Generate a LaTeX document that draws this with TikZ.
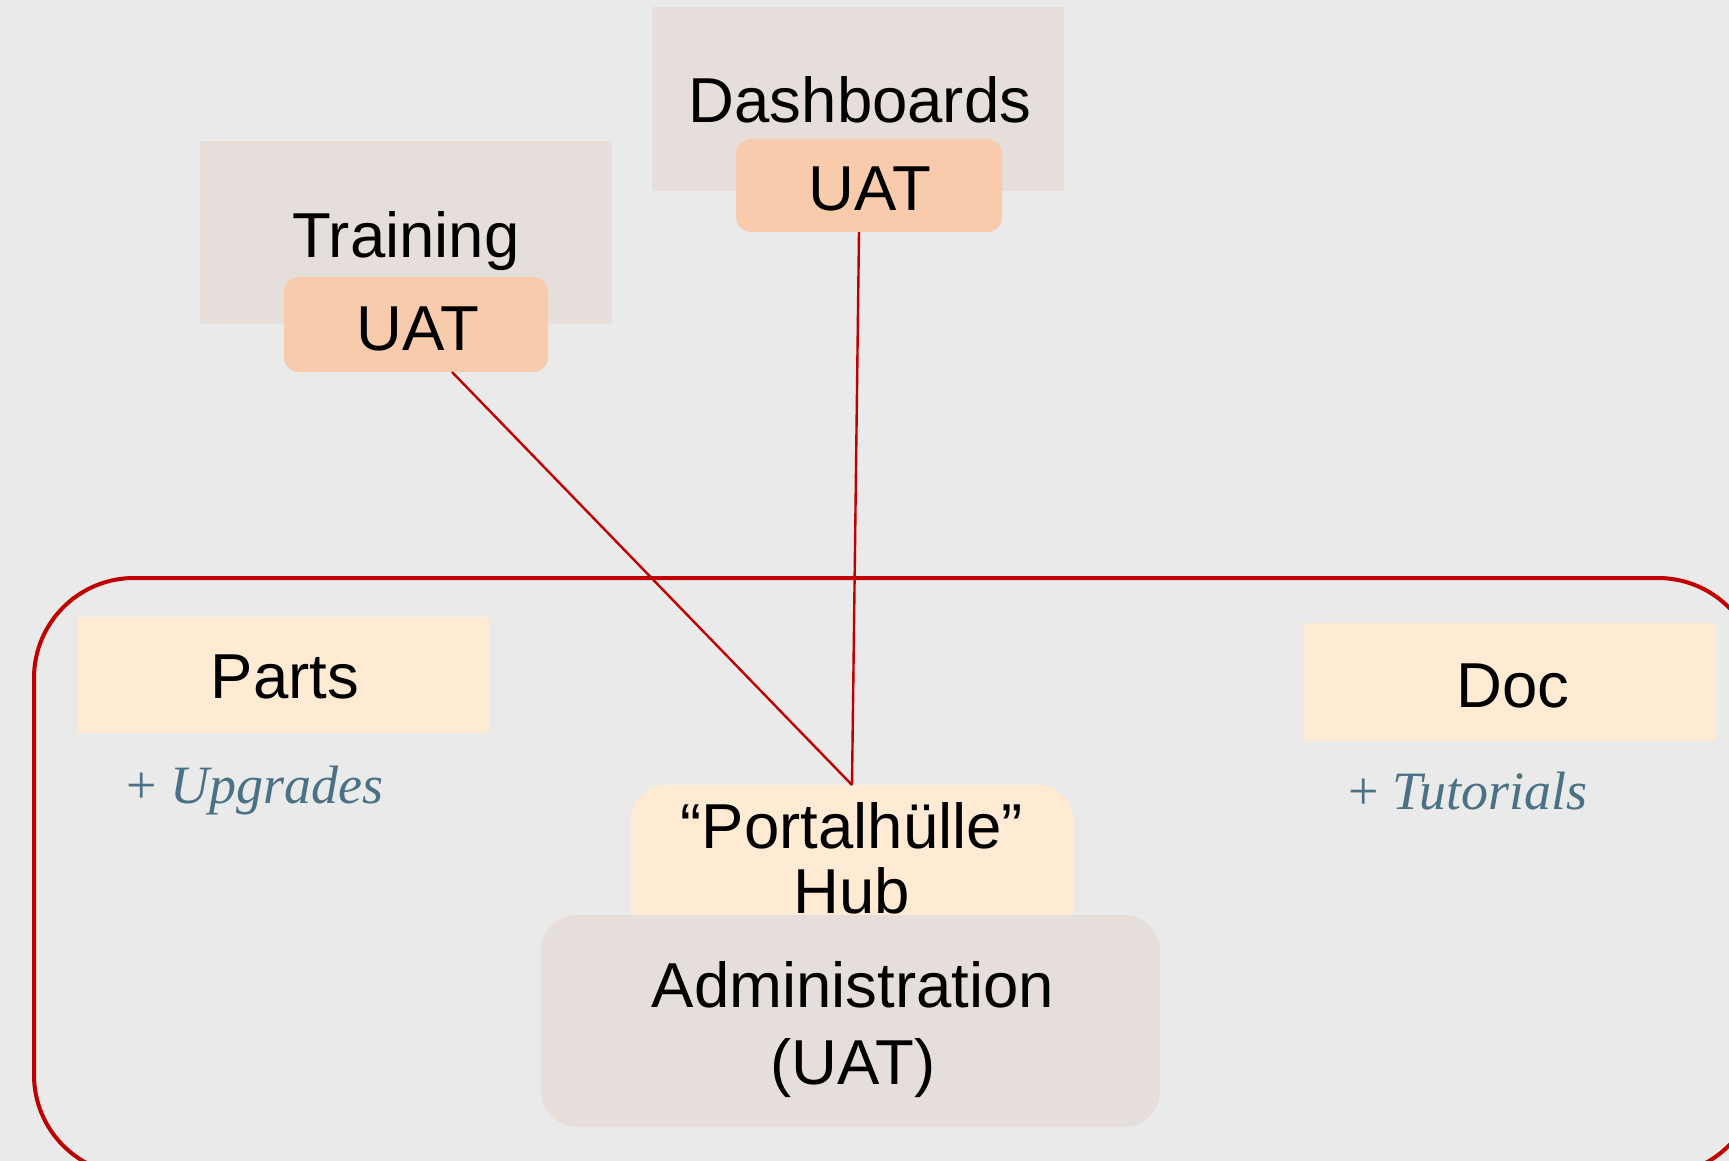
\documentclass[tikz,border=0pt]{standalone}
\usepackage{fontspec}
\setmainfont{Liberation Sans}
\newfontfamily\notefont{Liberation Serif}

\definecolor{pagebg}{HTML}{EAEAEA}
\definecolor{boxgray}{HTML}{E6DEDB}
\definecolor{uatorange}{HTML}{F8CBAD}
\definecolor{cream}{HTML}{FFEAD3}
\definecolor{framered}{HTML}{C00000}
\definecolor{noteblue}{HTML}{4A7185}

\begin{document}
\begin{tikzpicture}[x=1pt,y=-1pt,
  box/.style={inner sep=0pt, outer sep=0pt, draw=none},
  graybox/.style={box, fill=boxgray},
  uatbox/.style={box, fill=uatorange, rounded corners=15pt},
  creambox/.style={box, fill=cream},
  lbl/.style={inner sep=0pt, anchor=base, font=\fontsize{63.5}{76}\selectfont},
  note/.style={inner sep=0pt, anchor=base west, text=noteblue,
    font=\notefont\fontsize{54}{60}\selectfont},
  link/.style={draw=framered, line width=2.4pt},
  frame/.style={draw=framered, line width=4pt, rounded corners=100pt}]

% page and background
\useasboundingbox (0,0) rectangle (1729,1161);
\fill[pagebg] (0,0) rectangle (1729,1161);
\clip (0,0) rectangle (1729,1161);

% outer portal frame (runs off the right and bottom edges)
\draw[frame] (34,578) rectangle (1758,1175);

% Training
\node[graybox, minimum width=412pt, minimum height=183pt] (train) at (406,232.5) {};
\node[lbl] (trainT) at (406,258) {Training};
\node[uatbox, minimum width=264pt, minimum height=95pt] (trainUAT) at (416,324.5) {};
\node[lbl] (trainUATT) at (418,350) {UAT};

% Dashboards
\node[graybox, minimum width=412pt, minimum height=184pt] (dash) at (858,99) {};
\node[lbl] (dashT) at (860,123) {Dashboards};
\node[uatbox, minimum width=266pt, minimum height=93pt] (dashUAT) at (869,185.5) {};
\node[lbl] (dashUATT) at (870,211) {UAT};

% Parts
\node[creambox, minimum width=411pt, minimum height=116pt] (parts) at (283.5,675) {};
\node[lbl] (partsT) at (285,698) {Parts};
\node[note] (upgrades) at (126,803) {+ \itshape Upgrades};

% Doc
\node[creambox, minimum width=412pt, minimum height=118pt] (doc) at (1510,682) {};
\node[lbl] (docT) at (1513,707) {Doc};
\node[note] (tutorials) at (1348,809) {+ \itshape Tutorials};

% Hub with the administration block in front of it
\node[creambox, rounded corners=35pt, minimum width=442pt, minimum height=175pt] (hub) at (852,872.5) {};
\node[lbl] (hubT1) at (852,848) {“Portalhülle”};
\node[lbl] (hubT2) at (852,913) {Hub};
\node[graybox, rounded corners=36pt, minimum width=619pt, minimum height=212pt] (admin) at (850.5,1021) {};
\node[lbl] (adminT1) at (853,1007) {Administration};
\node[lbl] (adminT2) at (853,1084) {(UAT)};

% links from the UAT stages to the hub
\draw[link] (trainUAT.south) ++(36,0) -- (hub.north);
\draw[link] (dashUAT.south) ++(-10,0) -- (hub.north);
\end{tikzpicture}
\end{document}
